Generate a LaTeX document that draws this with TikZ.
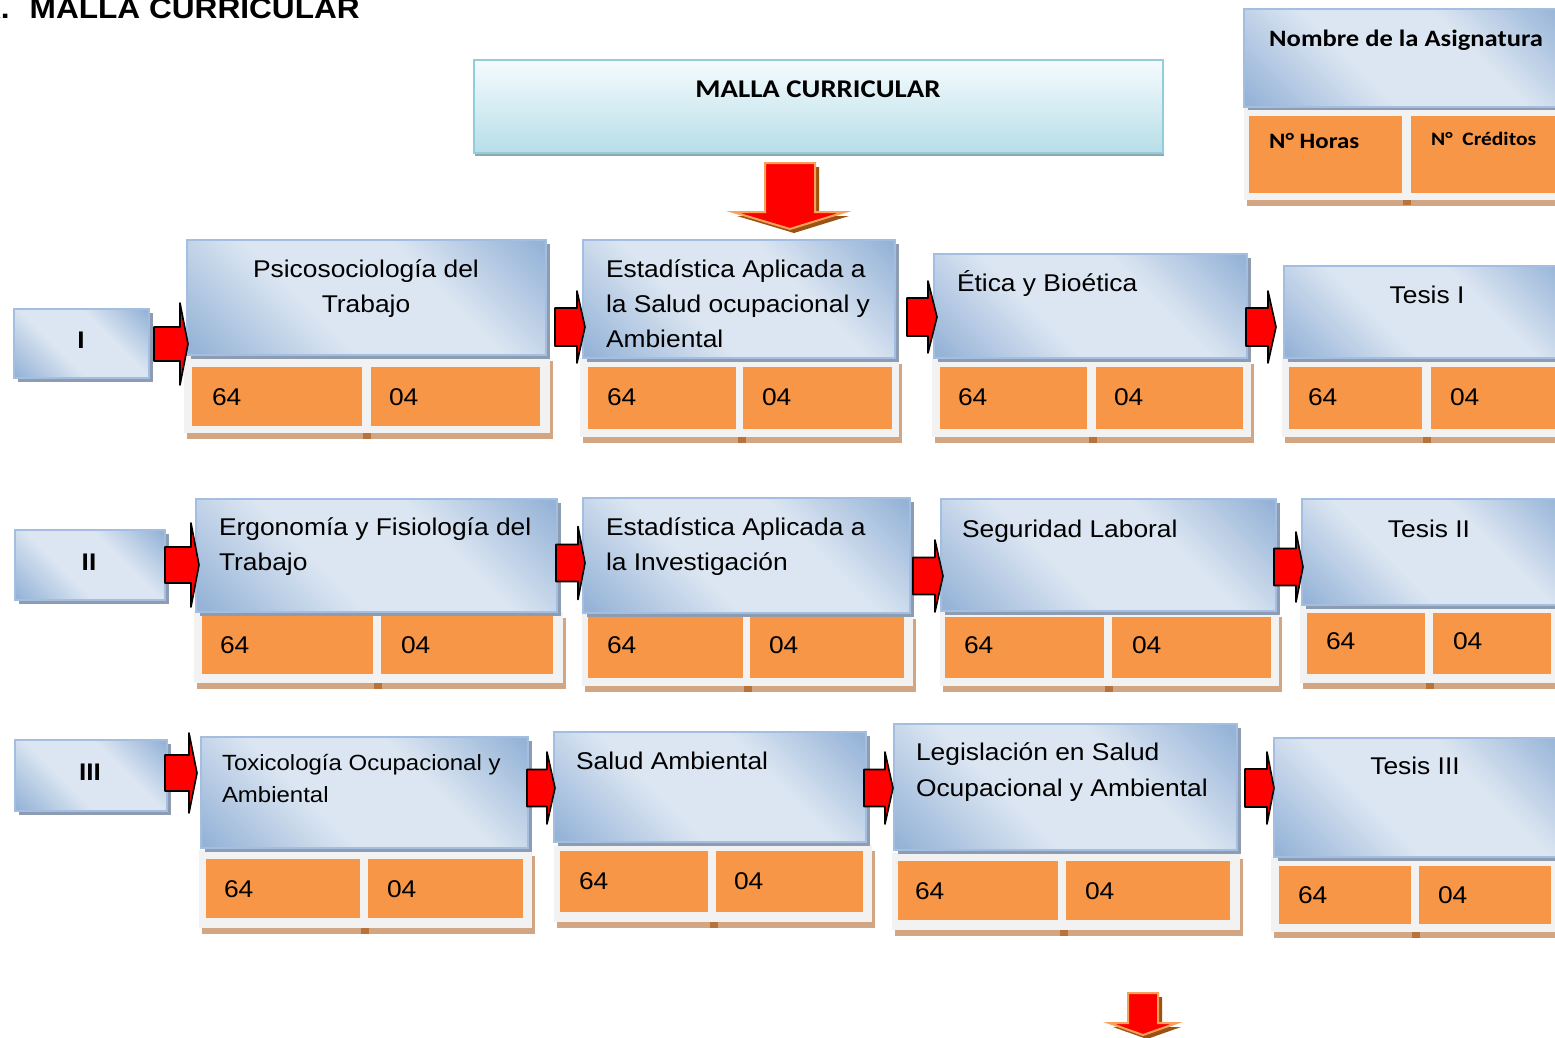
\documentclass[tikz,border=0pt]{standalone}
\usepackage{fontspec}
\setmainfont[FakeStretch=1.09]{Liberation Sans}
\newfontfamily\calfont[FakeStretch=1.13]{Carlito}
\usetikzlibrary{shadows}
\definecolor{bD}{HTML}{95B3D7}
\definecolor{bL}{HTML}{DCE6F2}
\definecolor{bline}{HTML}{A3BEE0}
\definecolor{bshadow}{HTML}{8D9CB0}
\definecolor{orangec}{HTML}{F79646}
\definecolor{panelgray}{HTML}{F2F2F2}
\definecolor{tanshadow}{HTML}{D2A583}
\definecolor{tandark}{HTML}{B8733A}
\definecolor{hdtop}{HTML}{F5FBFD}
\definecolor{hdbot}{HTML}{B7DEE8}
\definecolor{hdline}{HTML}{92CDDC}
\definecolor{hdshadow}{HTML}{8FA9AE}
\definecolor{darrline}{HTML}{F9A15A}
\definecolor{darrshadow}{HTML}{9C5210}
\pgfdeclareverticalshading{bgrad}{100bp}{color(0bp)=(bD); color(16bp)=(bD); color(40bp)=(bL); color(62bp)=(bL); color(84bp)=(bD); color(100bp)=(bD)}
\tikzset{
  bluebox/.style={draw=bline, line width=1.3pt, shade, shading=bgrad, shading angle=-45,
    drop shadow={shadow xshift=3.5pt, shadow yshift=-3.5pt, fill=bshadow, opacity=1},
    anchor=north west, inner sep=0pt, outer sep=0pt},
  headbox/.style={draw=hdline, line width=2pt, top color=hdtop, bottom color=hdbot,
    drop shadow={shadow xshift=1pt, shadow yshift=-3pt, fill=hdshadow, opacity=1},
    anchor=north west, inner sep=0pt, outer sep=0pt},
  panelbox/.style={fill=panelgray,
    drop shadow={shadow xshift=3pt, shadow yshift=-6pt, fill=tanshadow, opacity=1},
    anchor=north west, inner sep=0pt, outer sep=0pt},
  cellbox/.style={fill=orangec, anchor=north west, inner sep=0pt, outer sep=0pt},
  txt/.style={inner sep=0pt, outer sep=0pt, font=\fontsize{24.2}{35}\selectfont},
  smalltxt/.style={inner sep=0pt, outer sep=0pt, font=\fontsize{22}{32}\selectfont},
  numtxt/.style={inner sep=0pt, outer sep=0pt, anchor=base west, font=\fontsize{24.2}{29}\selectfont},
  lbltxt/.style={inner sep=0pt, outer sep=0pt, anchor=base, font=\fontsize{24}{29}\selectfont\bfseries},
  redarr/.style={fill=red, draw=black, line width=1.6pt, line join=round},
  downarr/.style={fill=red, draw=darrline, line width=2pt, line join=miter},
}
\newcommand{\bx}[6]{\node[#1, minimum width={(#5-#3)*1pt}, minimum height={(#6-#4)*1pt}] (#2) at (#3,#4) {};}
\newcommand{\rarr}[6]{\draw[redarr] ({#1},{#4-#5}) -- ({#2},{#4-#5}) -- ({#2},{#4-#6}) -- ({#3},{#4}) -- ({#2},{#4+#6}) -- ({#2},{#4+#5}) -- ({#1},{#4+#5}) -- cycle;}
\newcommand{\darr}[7]{%
  \fill[darrshadow, xshift=4pt, yshift=-4pt] (#1,#3) -- (#2,#3) -- (#2,#4) -- (#6,#4) -- ({(#1+#2)/2},#7) -- (#5,#4) -- (#1,#4) -- cycle;
  \draw[downarr] (#1,#3) -- (#2,#3) -- (#2,#4) -- (#6,#4) -- ({(#1+#2)/2},#7) -- (#5,#4) -- (#1,#4) -- cycle;}
\newcommand{\knot}[3]{\fill[tandark] (#1,#2) rectangle ({#1+8},{#2+#3});}
\newcommand{\ptl}[1]{\parbox[t]{420pt}{\raggedright #1}}
\newcommand{\ptc}[1]{\parbox[t]{300pt}{\centering #1}}

\begin{document}
\begin{tikzpicture}[x=1pt,y=-1pt]
\useasboundingbox (0,0) rectangle (1555,1038);
\clip (0,0) rectangle (1555,1038);
\fill[white] (0,0) rectangle (1555,1038);

% title
\node[inner sep=0pt, anchor=base east, font=\fontsize{29}{34}\selectfont\bfseries] (title) at (360,19) {X.\hspace{20pt}MALLA CURRICULAR};

% header
\bx{headbox}{hdr}{474}{60}{1163}{153}
\node[inner sep=0pt, anchor=base, font=\calfont\fontsize{25.5}{30}\selectfont\bfseries] (hdrtxt) at (818,98) {MALLA CURRICULAR};
\darr{765}{815}{163}{212}{733}{845}{229}

% legend
\bx{panelbox}{pL}{1244}{107}{1570}{200}
\knot{1403}{200}{5}
\bx{cellbox}{cL1}{1249}{116}{1402}{193}
\bx{cellbox}{cL2}{1411}{116}{1570}{193}
\bx{bluebox}{bL}{1244}{9}{1570}{107}
\node[inner sep=0pt, anchor=base west, font=\calfont\fontsize{23.5}{28}\selectfont\bfseries] (lgname) at (1269,47) {Nombre de la Asignatura};
\node[inner sep=0pt, anchor=base west, font=\calfont\fontsize{22}{26}\selectfont\bfseries] (lghrs) at (1269,149) {N° Horas};
\node[inner sep=0pt, anchor=base west, font=\calfont\fontsize{19}{23}\selectfont\bfseries] (lgcred) at (1431,146) {N°~ Créditos};

% ===== Row I =====
\bx{bluebox}{L1}{14}{309}{149}{378}
\node[lbltxt] (L1t) at (81,348) {I};

\bx{panelbox}{p11}{184}{355}{550}{433}
\knot{363}{433}{6}
\bx{cellbox}{c11a}{192}{367}{362}{426}
\bx{cellbox}{c11b}{371}{367}{540}{426}
\bx{bluebox}{b11}{187}{240}{546}{355}
\node[txt, anchor=base] (t11) at (366,277) {\ptc{Psicosociología del\\Trabajo}};
\node[numtxt] (n11a) at (212,405) {64};
\node[numtxt] (n11b) at (389,405) {04};

\bx{panelbox}{p12}{580}{358}{899}{437}
\knot{738}{437}{6}
\bx{cellbox}{c12a}{588}{367}{736}{429}
\bx{cellbox}{c12b}{743}{367}{892}{429}
\bx{bluebox}{b12}{583}{240}{895}{358}
\node[txt, anchor=base west] (t12) at (606,277) {\ptl{Estadística Aplicada a\\la Salud ocupacional y\\Ambiental}};
\node[numtxt] (n12a) at (607,405) {64};
\node[numtxt] (n12b) at (762,405) {04};

\bx{panelbox}{p13}{932}{358}{1251}{437}
\knot{1089}{437}{6}
\bx{cellbox}{c13a}{940}{367}{1087}{429}
\bx{cellbox}{c13b}{1096}{367}{1243}{429}
\bx{bluebox}{b13}{934}{254}{1247}{358}
\node[txt, anchor=base west] (t13) at (957,291) {Ética y Bioética};
\node[numtxt] (n13a) at (958,405) {64};
\node[numtxt] (n13b) at (1114,405) {04};

\bx{panelbox}{p14}{1282}{358}{1570}{437}
\knot{1423}{437}{6}
\bx{cellbox}{c14a}{1289}{367}{1422}{429}
\bx{cellbox}{c14b}{1431}{367}{1570}{429}
\bx{bluebox}{b14}{1284}{266}{1570}{358}
\node[txt, anchor=base] (t14) at (1427,303) {Tesis I};
\node[numtxt] (n14a) at (1308,405) {64};
\node[numtxt] (n14b) at (1450,405) {04};

\rarr{154}{180}{188}{344}{17}{41}
\rarr{555}{577}{585}{327}{19}{36}
\rarr{907}{928}{937}{317}{19}{36}
\rarr{1246}{1268}{1276}{327}{19}{36}

% ===== Row II =====
\bx{bluebox}{L2}{15}{530}{165}{600}
\node[lbltxt] (L2t) at (89,570) {II};

\bx{panelbox}{p21}{194}{612}{563}{683}
\knot{374}{683}{6}
\bx{cellbox}{c21a}{202}{616}{373}{674}
\bx{cellbox}{c21b}{381}{616}{553}{674}
\bx{bluebox}{b21}{196}{499}{557}{612}
\node[txt, anchor=base west] (t21) at (219,535) {\ptl{Ergonomía y Fisiología del\\Trabajo}};
\node[numtxt] (n21a) at (220,653) {64};
\node[numtxt] (n21b) at (401,653) {04};

\bx{panelbox}{p22}{582}{613}{913}{686}
\knot{744}{686}{6}
\bx{cellbox}{c22a}{588}{617}{743}{678}
\bx{cellbox}{c22b}{750}{617}{904}{678}
\bx{bluebox}{b22}{583}{498}{910}{613}
\node[txt, anchor=base west] (t22) at (606,535) {\ptl{Estadística Aplicada a\\la Investigación}};
\node[numtxt] (n22a) at (607,653) {64};
\node[numtxt] (n22b) at (769,653) {04};

\bx{panelbox}{p23}{940}{611}{1279}{686}
\knot{1105}{686}{6}
\bx{cellbox}{c23a}{945}{617}{1104}{678}
\bx{cellbox}{c23b}{1112}{617}{1271}{678}
\bx{bluebox}{b23}{941}{499}{1276}{611}
\node[txt, anchor=base west] (t23) at (962,537) {Seguridad Laboral};
\node[numtxt] (n23a) at (964,653) {64};
\node[numtxt] (n23b) at (1132,653) {04};

\bx{panelbox}{p24}{1300}{605}{1570}{683}
\knot{1426}{683}{6}
\bx{cellbox}{c24a}{1307}{613}{1425}{674}
\bx{cellbox}{c24b}{1433}{613}{1551}{674}
\bx{bluebox}{b24}{1302}{499}{1570}{605}
\node[txt, anchor=base] (t24) at (1429,537) {Tesis II};
\node[numtxt] (n24a) at (1326,649) {64};
\node[numtxt] (n24b) at (1453,649) {04};

\rarr{165}{191}{199}{565}{18}{42}
\rarr{556}{578}{585}{563}{18.5}{36.5}
\rarr{913}{935}{943}{576}{18.5}{36}
\rarr{1274}{1296}{1303}{567}{18.5}{35}

% ===== Row III =====
\bx{bluebox}{L3}{15}{740}{167}{811}
\node[lbltxt] (L3t) at (90,780) {III};

\bx{panelbox}{p31}{199}{850}{532}{928}
\knot{361}{928}{6}
\bx{cellbox}{c31a}{206}{859}{360}{918}
\bx{cellbox}{c31b}{368}{859}{523}{918}
\bx{bluebox}{b31}{201}{737}{528}{848}
\node[smalltxt, anchor=base west] (t31) at (222,770) {\ptl{Toxicología Ocupacional y\\Ambiental}};
\node[numtxt] (n31a) at (224,897) {64};
\node[numtxt] (n31b) at (387,897) {04};

\bx{panelbox}{p32}{554}{845}{872}{922}
\knot{710}{922}{6}
\bx{cellbox}{c32a}{560}{851}{708}{912}
\bx{cellbox}{c32b}{716}{851}{863}{912}
\bx{bluebox}{b32}{554}{732}{866}{842}
\node[txt, anchor=base west] (t32) at (576,769) {Salud Ambiental};
\node[numtxt] (n32a) at (579,889) {64};
\node[numtxt] (n32b) at (734,889) {04};

\bx{panelbox}{p33}{892}{853}{1240}{930}
\knot{1060}{930}{6}
\bx{cellbox}{c33a}{898}{861}{1058}{920}
\bx{cellbox}{c33b}{1066}{861}{1230}{920}
\bx{bluebox}{b33}{894}{724}{1237}{850}
\node[txt, anchor=base west, font=\fontsize{24.2}{36}\selectfont] (t33) at (916,760) {\ptl{Legislación en Salud\\Ocupacional y Ambiental}};
\node[numtxt] (n33a) at (915,899) {64};
\node[numtxt] (n33b) at (1085,899) {04};

\bx{panelbox}{p34}{1271}{857}{1570}{932}
\knot{1412}{932}{6}
\bx{cellbox}{c34a}{1279}{866}{1411}{924}
\bx{cellbox}{c34b}{1419}{866}{1551}{924}
\bx{bluebox}{b34}{1274}{738}{1570}{857}
\node[txt, anchor=base] (t34) at (1415,774) {Tesis III};
\node[numtxt] (n34a) at (1298,903) {64};
\node[numtxt] (n34b) at (1438,903) {04};

\rarr{165}{189}{197}{773}{18}{40}
\rarr{527}{547}{555}{788}{18.5}{36}
\rarr{864}{885}{893}{788}{18.5}{36}
\rarr{1245}{1267}{1274}{788}{19}{36}

% bottom arrow
\darr{1128}{1158}{993}{1023}{1109}{1177}{1035}
\end{tikzpicture}
\end{document}
